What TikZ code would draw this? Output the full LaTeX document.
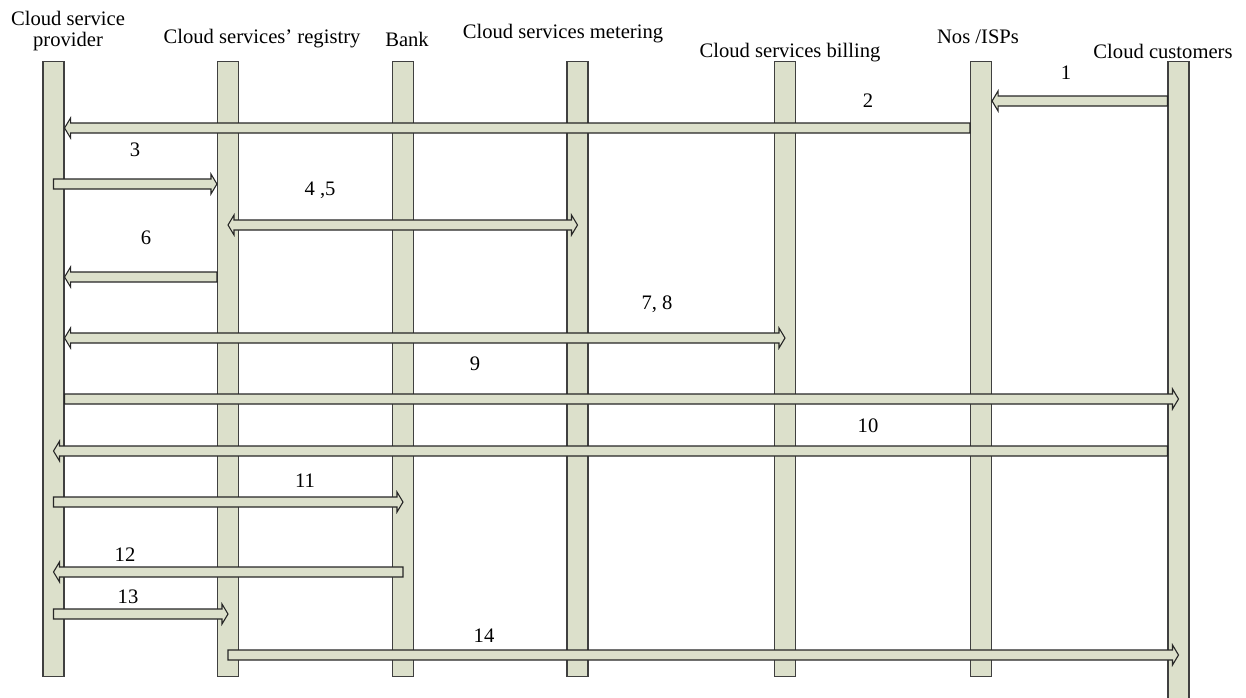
\documentclass[tikz,border=0pt]{standalone}
\usepackage{fontspec}
\setmainfont{Liberation Serif}
\usetikzlibrary{calc}
\definecolor{lanefill}{RGB}{220,224,203}
\tikzset{
  lifeline/.style={draw=black!75, fill=lanefill, line width=0.55pt, minimum width=10.5pt, inner sep=0pt, anchor=north},
  title/.style={inner sep=0pt, anchor=base},
  msg/.style={inner sep=0pt},
  flow/.style={draw=black!85, fill=lanefill, line width=0.55pt, to path={
    let \p1=(\tikztostart), \p2=(\tikztotarget), \n1={sign(\x2-\x1)} in
    (\x1,\y1+2.5pt) -- ({\x2-3pt*(\n1)},\y1+2.5pt) -- ({\x2-3pt*(\n1)},\y1+5pt) -- (\x2,\y1)
    -- ({\x2-3pt*(\n1)},\y1-5pt) -- ({\x2-3pt*(\n1)},\y1-2.5pt) -- (\x1,\y1-2.5pt) -- cycle}},
  flowboth/.style={draw=black!85, fill=lanefill, line width=0.55pt, to path={
    let \p1=(\tikztostart), \p2=(\tikztotarget), \n1={sign(\x2-\x1)} in
    (\x1,\y1) -- ({\x1+3pt*(\n1)},\y1+5pt) -- ({\x1+3pt*(\n1)},\y1+2.5pt)
    -- ({\x2-3pt*(\n1)},\y1+2.5pt) -- ({\x2-3pt*(\n1)},\y1+5pt) -- (\x2,\y1)
    -- ({\x2-3pt*(\n1)},\y1-5pt) -- ({\x2-3pt*(\n1)},\y1-2.5pt)
    -- ({\x1+3pt*(\n1)},\y1-2.5pt) -- ({\x1+3pt*(\n1)},\y1-5pt) -- cycle}},
}
\begin{document}
\begin{tikzpicture}[x=0.5pt, y=-0.5pt, font=\fontsize{10.3}{10.5}\selectfont]
  \useasboundingbox (0,0) rectangle (1246,697);
  % lifelines
  \foreach \id/\x/\len in {csp/53.5/307.5pt, reg/228/307.5pt, bank/403/307.5pt, met/577.5/307.5pt,
      bill/785/307.5pt, isp/981/307.5pt, cust/1178.5/322pt}
    \node[lifeline, minimum height=\len] (\id) at (\x,61) {};
  % headings
  \node[inner sep=0pt, align=center] (tcsp) at (68,31) {Cloud service\\provider};
  \node[title] (treg) at (262,43) {Cloud services' registry};
  \node[title] (tbank) at (407,46) {Bank};
  \node[title] (tmet) at (563,38) {Cloud services metering};
  \node[title] (tbill) at (790,57) {Cloud services billing};
  \node[title] (tisp) at (978,43) {Nos /ISPs};
  \node[title] (tcust) at (1163,58) {Cloud customers};
  % message rows
  \foreach \r/\y in {1/101, 2/128, 3/184, 4/225, 6/277, 7/338, 9/399, 10/451, 11/502, 12/572, 13/614, 14/655}
    \coordinate (m\r) at (0,\y);
  \foreach \src/\dst/\r/\kind in {cust.west/isp.east/1/flow, isp.west/csp.east/2/flow, csp/reg.west/3/flow,
      reg/met/4/flowboth, reg.west/csp.east/6/flow, csp.east/bill/7/flowboth, csp.east/cust/9/flow,
      cust.west/csp/10/flow, csp/bank/11/flow, bank/csp/12/flow, csp/reg/13/flow, reg/cust/14/flow}
    \draw[\kind] (\src |- m\r) to (\dst |- m\r);
  % step numbers
  \foreach \id/\x/\y/\txt in {n1/1066/73/1, n2/868/101/2, n3/135/150/3, n4/320/190/{4 ,5}, n6/146/238/6,
      n7/657/304/{7, 8}, n9/475/364/9, n10/868/426/10, n11/305/481/11, n12/125/555/12, n13/128/597/13, n14/484/636/14}
    \node[msg] (\id) at (\x,\y) {\txt};
\end{tikzpicture}
\end{document}
